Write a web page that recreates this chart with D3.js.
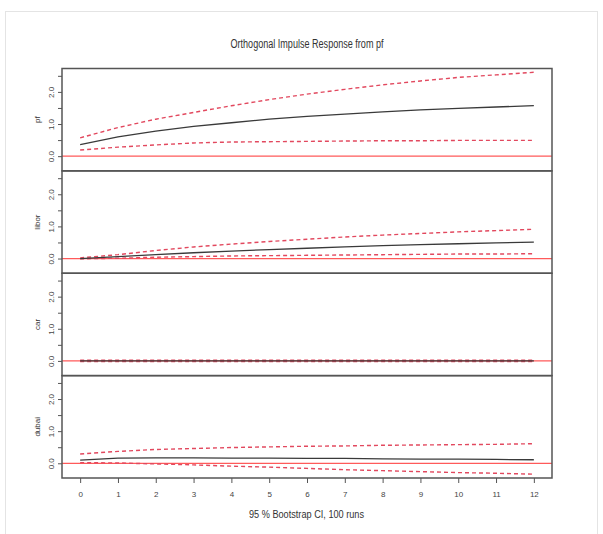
<!DOCTYPE html>
<head>
  <meta charset="utf-8">
  <script src="https://d3js.org/d3.v7.min.js"></script>
  <style type="text/css">
    body { margin:0; background:#fff; }
    text { font-family: "Liberation Sans", Arial, sans-serif; fill:#333; }
    .box { fill:none; stroke:#555; stroke-width:1.5; }
    .frame { fill:none; stroke:#e4e4e4; stroke-width:1; }
    .irf { fill:none; stroke:#3a3a3a; stroke-width:1.3; }
    .ci { fill:none; stroke:#e2485e; stroke-width:1.4; stroke-dasharray:4,3; }
    .zero { stroke:#ff5a5a; stroke-width:1.3; }
    .axis path { display:none; }
    .axis line { stroke:#555; }
    .axis text { font-size:8px; fill:#444; }
  </style>
</head>

<body>
  <script>

  // horizon (periods ahead)
  var steps = [0,1,2,3,4,5,6,7,8,9,10,11,12];
  var panelNames = ["pf", "libor", "car", "dubai"];

  // impulse response of each variable to a pf shock
  var irfPf    = [0.36,0.60,0.78,0.93,1.04,1.15,1.24,1.31,1.38,1.44,1.49,1.53,1.57];
  var irfLibor = [0.00,0.06,0.12,0.18,0.23,0.28,0.32,0.36,0.40,0.43,0.46,0.49,0.51];
  var irfCar   = [0.00,0.00,0.00,0.00,0.00,0.00,0.00,0.00,0.00,0.00,0.00,0.00,0.00];
  var irfDubai = [0.10,0.16,0.17,0.17,0.16,0.16,0.15,0.15,0.14,0.13,0.13,0.12,0.11];

  // bootstrap upper bounds
  var upperPf    = [0.57,0.89,1.15,1.36,1.57,1.76,1.93,2.08,2.22,2.34,2.45,2.53,2.61];
  var upperLibor = [0.02,0.12,0.25,0.36,0.45,0.53,0.60,0.67,0.73,0.78,0.83,0.87,0.91];
  var upperCar   = [0.02,0.02,0.02,0.02,0.02,0.02,0.02,0.02,0.02,0.02,0.02,0.02,0.02];
  var upperDubai = [0.29,0.37,0.43,0.46,0.49,0.51,0.53,0.54,0.56,0.57,0.58,0.59,0.61];

  // bootstrap lower bounds
  var lowerPf    = [0.19,0.28,0.35,0.41,0.44,0.45,0.46,0.47,0.48,0.48,0.49,0.49,0.49];
  var lowerLibor = [-0.01,0.01,0.04,0.06,0.08,0.09,0.10,0.11,0.12,0.13,0.14,0.14,0.15];
  var lowerCar   = [-0.02,-0.02,-0.02,-0.02,-0.02,-0.02,-0.02,-0.02,-0.02,-0.02,-0.02,-0.02,-0.02];
  var lowerDubai = [0.02,0.01,-0.02,-0.05,-0.09,-0.12,-0.16,-0.20,-0.23,-0.26,-0.29,-0.31,-0.34];

  var yTicks = [0, 0.5, 1, 1.5, 2, 2.5];
  var xTicks = steps;

  var panels = [
    {name: panelNames[0], irf: irfPf,    upper: upperPf,    lower: lowerPf},
    {name: panelNames[1], irf: irfLibor, upper: upperLibor, lower: lowerLibor},
    {name: panelNames[2], irf: irfCar,   upper: upperCar,   lower: lowerCar},
    {name: panelNames[3], irf: irfDubai, upper: upperDubai, lower: lowerDubai}
  ];

  var W = 603, H = 534;
  var plotL = 62, plotR = 552, plotT = 68.5, plotB = 478;
  var ph = (plotB - plotT) / panels.length;

  var svg = d3.select("body").append("svg")
    .attr("width", W)
    .attr("height", H);

  svg.append("rect").attr("class", "frame")
    .attr("x", 5.5).attr("y", 11.5).attr("width", 592).attr("height", 540);

  // common y limits like R's irf plot, with 4% padding
  var lo = d3.min(panels, function(p) { return d3.min(p.lower); });
  var hi = d3.max(panels, function(p) { return d3.max(p.upper); });
  var pad = 0.04 * (hi - lo);

  var xScale = d3.scaleLinear()
    .domain([0 - 0.04 * 12, 12 + 0.04 * 12])
    .range([plotL, plotR]);

  panels.forEach(function(p, i) {
    var y0 = plotT + i * ph;
    var yScale = d3.scaleLinear()
      .domain([lo - pad, hi + pad])
      .range([y0 + ph, y0]);

    var line = d3.line()
      .x(function(d, j) { return xScale(steps[j]); })
      .y(function(d) { return yScale(d); });

    var g = svg.append("g");

    g.append("line").attr("class", "zero")
      .attr("x1", plotL).attr("x2", plotR)
      .attr("y1", yScale(0)).attr("y2", yScale(0));

    g.append("path").datum(p.upper).attr("class", "ci").attr("d", line);
    g.append("path").datum(p.lower).attr("class", "ci").attr("d", line);
    g.append("path").datum(p.irf).attr("class", "irf").attr("d", line);

    g.append("rect").attr("class", "box")
      .attr("x", plotL).attr("y", y0)
      .attr("width", plotR - plotL).attr("height", ph);

    var ax = g.append("g").attr("class", "axis")
      .attr("transform", "translate(" + plotL + ",0)")
      .call(d3.axisLeft(yScale)
        .tickValues(yTicks)
        .tickSize(4)
        .tickFormat(function(d) { return d % 1 === 0 ? d3.format(".1f")(d) : ""; }));
    ax.selectAll("text")
      .attr("x", 0).attr("dy", "0.35em")
      .attr("text-anchor", "middle")
      .attr("transform", "translate(-10.5,0) rotate(-90)");

    svg.append("text")
      .attr("transform", "translate(37," + (y0 + ph / 2) + ") rotate(-90)")
      .attr("text-anchor", "middle")
      .attr("dy", "0.35em")
      .style("font-size", "8px")
      .text(p.name);
  });

  var xa = svg.append("g").attr("class", "axis")
    .attr("transform", "translate(0," + plotB + ")")
    .call(d3.axisBottom(xScale).tickValues(xTicks).tickSize(5).tickPadding(8));

  svg.append("text")
    .attr("x", 307).attr("y", 48)
    .attr("text-anchor", "middle")
    .attr("textLength", 153)
    .attr("lengthAdjust", "spacingAndGlyphs")
    .style("font-size", "12px")
    .text("Orthogonal Impulse Response from pf");

  svg.append("text")
    .attr("x", 306.5).attr("y", 518)
    .attr("text-anchor", "middle")
    .attr("textLength", 115)
    .attr("lengthAdjust", "spacingAndGlyphs")
    .style("font-size", "11px")
    .text("95 % Bootstrap CI,  100 runs");

  </script>
</body>
